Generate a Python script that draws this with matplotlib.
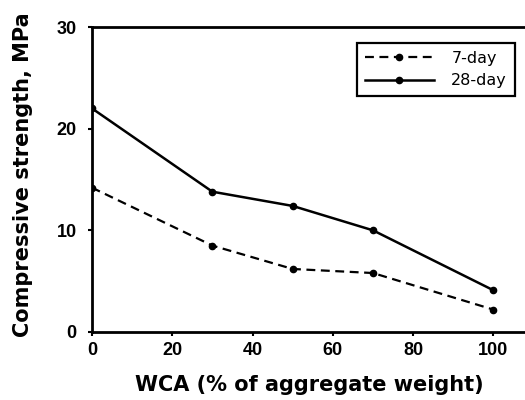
import matplotlib
matplotlib.use("Agg")
import matplotlib.pyplot as plt

wca = [0, 30, 50, 70, 100]
day7 = [14.2, 8.5, 6.2, 5.8, 2.2]
day28 = [22.0, 13.8, 12.4, 10.0, 4.1]
xticks = [0, 20, 40, 60, 80, 100]
yticks = [0, 10, 20, 30]

plt.rcParams['font.family'] = ['Liberation Sans', 'DejaVu Sans']

fig = plt.figure(figsize=(5.25, 4.0), dpi=100)
ax = fig.add_axes([0.175, 0.17, 0.83, 0.7625])

ax.plot(wca, day7, linestyle=(0, (4, 2.5)), color='black', linewidth=1.6,
        marker='o', markersize=4.5, markerfacecolor='black', label='7-day')
ax.plot(wca, day28, linestyle='-', color='black', linewidth=1.8,
        marker='o', markersize=4.5, markerfacecolor='black', label='28-day')

ax.set_xlim(0, 108.5)
ax.set_ylim(0, 30)
ax.set_xticks(xticks)
ax.set_yticks(yticks)
ax.tick_params(axis='both', labelsize=13, width=1.5, length=3, direction='out')
ax.tick_params(axis='y', pad=8)
ax.tick_params(axis='x', pad=4)
for lab in ax.get_xticklabels() + ax.get_yticklabels():
    lab.set_fontweight('bold')
for sp in ax.spines.values():
    sp.set_linewidth(2)
ax.spines['right'].set_visible(False)

ax.set_xlabel('WCA (% of aggregate weight)', fontsize=15, fontweight='bold',
              family='DejaVu Sans', labelpad=12)
ax.set_ylabel('Compressive strength, MPa', fontsize=15, fontweight='bold',
              family='DejaVu Sans')
ax.yaxis.set_label_coords(-0.136, 0.515)

leg = ax.legend(loc='upper right', bbox_to_anchor=(0.981, 0.8925),
                bbox_transform=fig.transFigure,
                prop={'family': 'DejaVu Sans', 'size': 11.5},
                frameon=True, fancybox=False, handlelength=4.3, borderpad=0.5,
                labelspacing=0.45, handletextpad=1.1, borderaxespad=0)
leg.get_frame().set_edgecolor('black')
leg.get_frame().set_linewidth(1.6)
leg.get_frame().set_alpha(1)
for t in leg.get_texts():
    t.set_ha('right')

fig.savefig('out.png', dpi=100)
